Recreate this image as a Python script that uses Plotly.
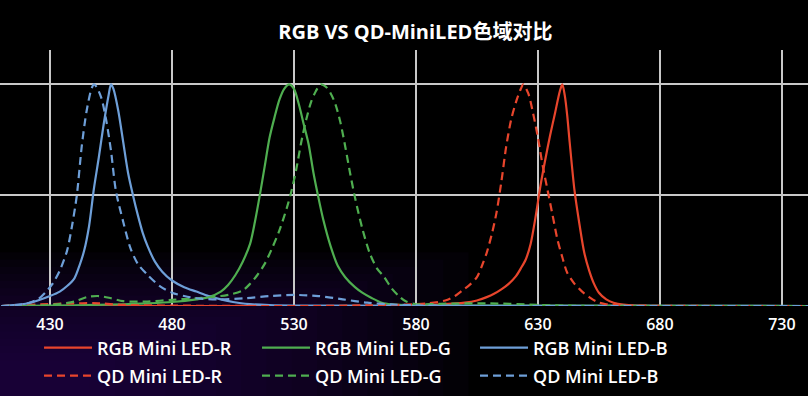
import plotly.graph_objects as go

# ---------------- data ----------------
tick_vals = [430, 480, 530, 580, 630, 680, 730]
tick_text = ["430", "480", "530", "580", "630", "680", "730"]

rgb_r_x = [410, 560, 580, 590, 600, 605, 609, 612, 615, 618, 621, 623, 625, 627, 629, 631, 633, 635, 637, 639, 640,
           641, 642, 643, 645, 647, 649, 651, 653, 655, 658, 661, 665, 670, 741]
rgb_r_y = [0, 0, 0.003, 0.007, 0.015, 0.025, 0.04, 0.055, 0.075, 0.1, 0.135, 0.17, 0.21, 0.28, 0.4, 0.54, 0.66, 0.77, 0.87, 0.97, 1.0,
           0.95, 0.86, 0.74, 0.52, 0.37, 0.24, 0.16, 0.1, 0.06, 0.03, 0.015, 0.006, 0.002, 0]

rgb_g_x = [410, 440, 460, 470, 480, 490, 495, 500, 503, 506, 509, 512, 514, 516, 518, 520, 522, 524, 526, 528, 530,
           532, 534, 536, 538, 540, 542, 545, 548, 551, 555, 558, 562, 566, 570, 580, 600, 741]
rgb_g_y = [0, 0.003, 0.008, 0.012, 0.018, 0.03, 0.04, 0.065, 0.095, 0.14, 0.2, 0.28, 0.38, 0.5, 0.63, 0.76, 0.85, 0.93, 0.98, 1.0, 0.98,
           0.91, 0.82, 0.73, 0.6, 0.49, 0.39, 0.27, 0.18, 0.13, 0.085, 0.06, 0.035, 0.015, 0.008, 0.004, 0.002, 0]

rgb_b_x = [410, 420, 425, 430, 434, 437, 440, 442, 444, 446, 448, 450, 452, 454, 455, 456, 458, 460, 462, 464,
           466, 468, 470, 473, 476, 480, 485, 490, 495, 500, 505, 510, 520, 530, 741]
rgb_b_y = [0, 0.01, 0.025, 0.045, 0.065, 0.09, 0.125, 0.18, 0.25, 0.36, 0.53, 0.67, 0.82, 0.95, 1.0, 0.98, 0.88, 0.74, 0.6, 0.5,
           0.41, 0.33, 0.27, 0.2, 0.155, 0.115, 0.085, 0.065, 0.045, 0.03, 0.018, 0.01, 0.004, 0.002, 0]

qd_r_x = [410, 440, 450, 460, 540, 560, 575, 585, 592, 596, 599, 602, 605, 607, 609, 611, 613, 615, 617, 619, 621, 623,
          624, 626, 628, 630, 632, 634, 636, 638, 640, 642, 645, 648, 651, 654, 658, 665, 741]
qd_r_y = [0, 0.012, 0.012, 0.005, 0, 0.003, 0.006, 0.012, 0.025, 0.045, 0.07, 0.095, 0.13, 0.18, 0.24, 0.32, 0.42, 0.56, 0.72, 0.84, 0.92, 0.98,
          1.0, 0.96, 0.87, 0.76, 0.63, 0.52, 0.41, 0.3, 0.22, 0.15, 0.1, 0.066, 0.04, 0.02, 0.008, 0.003, 0]

qd_g_x = [410, 430, 440, 445, 450, 455, 460, 470, 480, 490, 500, 505, 509, 512, 515, 518, 521, 524, 527, 529, 531, 533,
          535, 537, 539, 541, 543, 545, 547, 549, 551, 553, 555, 558, 561, 564, 567, 570, 573, 576, 580, 590, 610, 630, 650, 741]
qd_g_y = [0, 0.005, 0.02, 0.04, 0.045, 0.035, 0.022, 0.02, 0.028, 0.035, 0.045, 0.055, 0.07, 0.1, 0.14, 0.19, 0.26, 0.34, 0.44, 0.52, 0.62, 0.74,
          0.84, 0.92, 0.97, 1.0, 0.99, 0.96, 0.91, 0.83, 0.72, 0.6, 0.49, 0.35, 0.24, 0.17, 0.13, 0.08, 0.045, 0.02, 0.008, 0.01, 0.012, 0.005, 0, 0]

qd_b_x = [410, 420, 425, 428, 431, 434, 437, 439, 441, 443, 445, 447, 448, 449, 451, 453, 455, 457, 460, 463, 466,
          470, 475, 480, 485, 490, 500, 510, 520, 530, 540, 550, 560, 570, 580, 600, 741]
qd_b_y = [0, 0.01, 0.03, 0.06, 0.1, 0.16, 0.25, 0.36, 0.5, 0.72, 0.88, 0.98, 1.0, 0.99, 0.94, 0.84, 0.7, 0.52, 0.38, 0.26, 0.19,
          0.14, 0.09, 0.06, 0.045, 0.035, 0.03, 0.035, 0.045, 0.05, 0.045, 0.03, 0.015, 0.007, 0.003, 0, 0]

names = ["RGB Mini LED-R", "RGB Mini LED-G", "RGB Mini LED-B",
         "QD Mini LED-R", "QD Mini LED-G", "QD Mini LED-B"]

RED = "#e8452c"
GREEN = "#4fae50"
BLUE = "#6e9fd8"
DASH = "8px,5px"

series = [
    (rgb_r_x, rgb_r_y, RED, "solid", "legend"),
    (rgb_g_x, rgb_g_y, GREEN, "solid", "legend"),
    (rgb_b_x, rgb_b_y, BLUE, "solid", "legend"),
    (qd_r_x, qd_r_y, RED, DASH, "legend2"),
    (qd_g_x, qd_g_y, GREEN, DASH, "legend2"),
    (qd_b_x, qd_b_y, BLUE, DASH, "legend2"),
]

fig = go.Figure()
for (xs, ys, col, dash, leg), nm in zip(series, names):
    fig.add_trace(go.Scatter(
        x=xs, y=ys, mode="lines", name=nm, legend=leg,
        line=dict(color=col, width=2.2, dash=dash, shape="spline", smoothing=0.8),
        hoverinfo="skip",
    ))

# soft purple glow in the lower-left corner of the page (stacked translucent rectangles)
shapes = []
steps = 16
for i in range(steps):
    f = (i + 1) / steps
    shapes.append(dict(type="rect", xref="paper", yref="paper",
                       x0=0, x1=0.08 + 0.5 * f, y0=-0.36, y1=-0.36 + 0.12 + 0.45 * f,
                       fillcolor="#2c0f50", opacity=0.07, line=dict(width=0), layer="below"))

legend_common = dict(
    orientation="h",
    x=0.0483, xanchor="left",
    yanchor="middle",
    entrywidth=155, entrywidthmode="pixels",
    itemwidth=48,
    traceorder="normal",
    bgcolor="rgba(0,0,0,0)",
    font=dict(family="Open Sans, sans-serif", size=18, color="#ffffff", weight=600),
)

fig.update_layout(
    width=808, height=396,
    margin=dict(l=0, r=0, t=50, b=90),
    paper_bgcolor="#000000",
    plot_bgcolor="rgba(0,0,0,0)",
    shapes=shapes,
    title=dict(
        text="<b>RGB VS QD-MiniLED色域对比</b>",
        x=0.514, xanchor="center", xref="paper",
        y=1 - 32 / 396, yanchor="middle", yref="container",
        font=dict(family="Open Sans, Noto Sans CJK SC, sans-serif", size=20, color="#ffffff"),
    ),
    xaxis=dict(
        range=[409.5, 740.7],
        tickvals=tick_vals, ticktext=tick_text,
        showgrid=True, gridcolor="#c8c8c8", gridwidth=2,
        zeroline=False, showline=False,
        ticks="outside", ticklen=4, tickcolor="rgba(0,0,0,0)",
        tickfont=dict(family="Open Sans, sans-serif", size=16, color="#ffffff", weight=600),
        fixedrange=True,
    ),
    yaxis=dict(
        range=[0, 1.155],
        tickvals=[0.5, 1.0],
        showticklabels=False,
        showgrid=True, gridcolor="#c8c8c8", gridwidth=2,
        zeroline=False, showline=False,
        fixedrange=True,
    ),
    showlegend=True,
    legend=dict(legend_common, y=(306 - 348) / 256),
    legend2=dict(legend_common, y=(306 - 376) / 256),
)

fig.write_html(
    "out.html",
    config={"displayModeBar": False},
    post_script="document.body.style.margin='0';document.body.style.overflow='hidden';"
                "window.dispatchEvent(new Event('resize'));",
)
